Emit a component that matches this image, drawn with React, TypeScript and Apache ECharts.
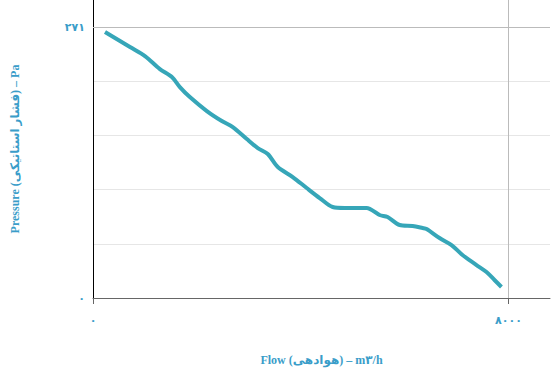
import React, { useEffect, useRef } from "react";
import * as echarts from "echarts";

// Flow (m3/h) and pressure (Pa)
const flowValues = [231, 712, 1000, 1288, 1519, 1673, 1865, 2192, 2481, 2692, 2962, 3173, 3365, 3558, 3846, 4115, 4365, 4615, 4846, 5269, 5519, 5673, 5904, 6154, 6346, 6423, 6673, 6904, 7115, 7385, 7577, 7731, 7865];
const pressureValues = [266, 251, 242, 229, 221, 211, 201, 187, 177, 171, 159, 150, 144, 131, 121, 110, 100, 91, 90, 90, 83, 81, 73, 72, 70, 69, 60, 53, 43, 33, 26, 18, 11];

const xTickValues = [0, 8000];
const yTickValues = [0, 271];
const xMax = 8800;
const yMax = 298.1;

const toPersian = (n: number) =>
  String(n).replace(/[0-9]/g, (d) => "۰۱۲۳۴۵۶۷۸۹"[Number(d)]);

const labelColor = "#3a9dc9";

export default function App() {
  const ref = useRef<HTMLDivElement>(null);
  useEffect(() => {
    if (!ref.current) return;
    const chart = echarts.init(ref.current, undefined, { renderer: "svg" });
    const near = (v: number, arr: number[]) => arr.some((t) => Math.abs(t - v) < 0.5);
    chart.setOption({
      animation: false,
      grid: { left: 93, right: 4, top: 0, bottom: 74, containLabel: false, outerBoundsMode: "none" },
      xAxis: {
        type: "value",
        min: 0,
        max: xMax,
        interval: 8000,
        name: "Flow (هوادهی) – m" + "۳" + "/h",
        nameLocation: "middle",
        nameGap: 56,
        nameTextStyle: {
          color: labelColor,
          fontFamily: "Liberation Serif, DejaVu Sans",
          fontWeight: "bold",
          fontSize: 12,
        },
        axisLine: { show: true, lineStyle: { color: "#666", width: 1 } },
        axisTick: { show: true, length: 6, lineStyle: { color: "#666" } },
        axisLabel: {
          margin: 17,
          color: labelColor,
          fontWeight: "bold",
          fontSize: 11,
          fontFamily: "DejaVu Sans",
          showMaxLabel: false,
          formatter: (v: number) => (near(v, xTickValues) ? toPersian(Math.round(v)) : ""),
        },
        splitLine: {
          show: true,
          showMinLine: false,
          showMaxLine: false,
          lineStyle: { color: "#bbbbbb", width: 1 },
        },
      },
      yAxis: {
        type: "value",
        min: 0,
        max: yMax,
        interval: 54.2,
        name: "Pressure (فشار استاتیکی) – Pa",
        nameLocation: "middle",
        nameGap: 72,
        nameRotate: 90,
        nameTextStyle: {
          color: labelColor,
          fontFamily: "Liberation Serif, DejaVu Sans",
          fontWeight: "bold",
          fontSize: 12,
        },
        axisLine: { show: true, lineStyle: { color: "#000", width: 1 } },
        axisTick: { show: false },
        axisLabel: {
          margin: 8,
          color: labelColor,
          fontWeight: "bold",
          fontSize: 11,
          fontFamily: "DejaVu Sans",
          showMaxLabel: false,
          formatter: (v: number) => (near(v, yTickValues) ? toPersian(Math.round(v)) : ""),
        },
        splitLine: {
          show: true,
          showMinLine: false,
          showMaxLine: false,
          lineStyle: { color: "#e6e6e6", width: 1 },
        },
      },
      series: [
        {
          type: "line",
          data: flowValues.map((f, i) => [f, pressureValues[i]]),
          smooth: 0.3,
          showSymbol: false,
          lineStyle: { color: "#36a6b8", width: 4 },
          markLine: {
            silent: true,
            symbol: "none",
            label: { show: false },
            lineStyle: { color: "#bbbbbb", type: "solid", width: 1 },
            data: [{ yAxis: 271 }],
          },
        },
      ],
    });
    return () => chart.dispose();
  }, []);
  return (
    <div
      ref={ref}
      style={{ position: "fixed", left: 0, top: 0, width: 554, height: 372, background: "#fff" }}
    />
  );
}
